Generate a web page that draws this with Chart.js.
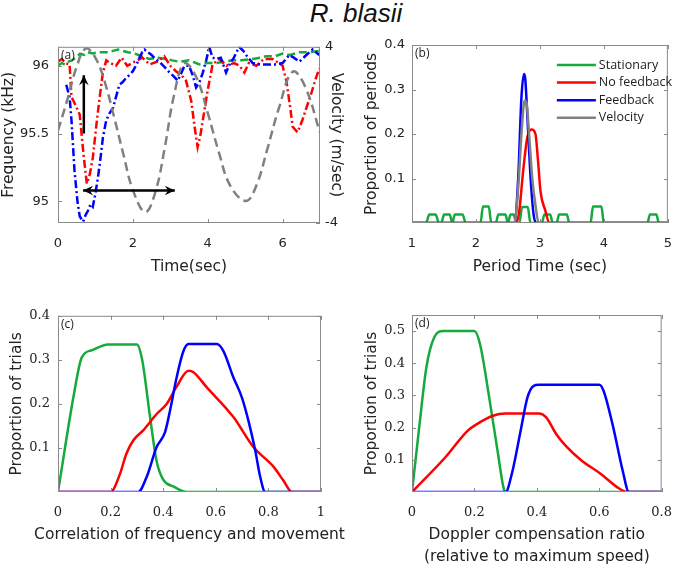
<!DOCTYPE html>
<html>
<head>
<meta charset="utf-8">
<script src="https://cdn.jsdelivr.net/npm/chart.js@4.4.0/dist/chart.umd.min.js"></script>
<style>
  body { margin: 0; background: #fff; width: 685px; height: 570px; position: relative; overflow: hidden; }
  .panel { position: absolute; }
  #title { position: absolute; left: 256px; width: 200px; top: 0; text-align: center;
           font: italic 26px "Liberation Sans", Arial, sans-serif; line-height: 26px; color: #111; }
</style>
</head>
<body>
<div id="title">R. blasii</div>
<canvas id="chartA" class="panel" width="345" height="250" style="left:0;top:30px"></canvas>
<canvas id="chartB" class="panel" width="340" height="250" style="left:345px;top:30px"></canvas>
<canvas id="chartC" class="panel" width="345" height="270" style="left:0;top:300px"></canvas>
<canvas id="chartD" class="panel" width="340" height="270" style="left:345px;top:300px"></canvas>
<script>
// ---- (a) frequency traces over time ----
const timeStationary = [0, 0.1, 0.19, 0.28, 0.37, 0.48, 0.59, 0.7, 0.8, 0.93, 1.07, 1.2, 1.33, 1.47, 1.6, 1.73, 1.87, 2.05, 2.24, 2.44, 2.65, 2.89, 3.05, 3.24, 3.5, 3.78, 4.0, 4.22, 4.45, 4.67, 4.9, 5.2, 5.4, 5.56, 5.8, 6.0, 6.2, 6.44, 6.7, 6.98];
const freqStationary = [96.0, 96.02, 96.01, 96.03, 96.04, 96.06, 96.09, 96.08, 96.1, 96.09, 96.1, 96.1, 96.1, 96.11, 96.12, 96.11, 96.1, 96.09, 96.07, 96.05, 96.06, 96.05, 96.04, 96.03, 96.04, 96.01, 96.02, 96.02, 96.03, 96.04, 96.04, 96.05, 96.06, 96.07, 96.07, 96.09, 96.08, 96.1, 96.1, 96.11];

const timeNoFb = [0, 0.1, 0.2, 0.31, 0.36, 0.45, 0.58, 0.68, 0.77, 0.85, 0.93, 1.02, 1.11, 1.2, 1.29, 1.4, 1.55, 1.7, 1.85, 2.05, 2.25, 2.45, 2.65, 2.84, 3.0, 3.15, 3.3, 3.42, 3.56, 3.65, 3.73, 3.8, 3.87, 4.0, 4.13, 4.3, 4.5, 4.7, 4.85, 4.98, 5.1, 5.3, 5.5, 5.73, 5.9, 6.0, 6.1, 6.2, 6.27, 6.4, 6.53, 6.65, 6.76, 6.88, 6.98];
const freqNoFb = [96.03, 96.05, 96.02, 96.01, 95.77, 95.72, 95.64, 95.35, 95.13, 95.2, 95.32, 95.55, 95.76, 95.95, 96.04, 96.02, 96.0, 96.06, 96.0, 96.03, 96.06, 96.01, 96.03, 96.07, 96.0, 95.96, 95.93, 95.89, 95.74, 95.55, 95.4, 95.48, 95.6, 95.82, 96.01, 96.05, 96.0, 96.02, 96.0, 95.95, 96.02, 96.0, 96.05, 96.05, 96.02, 96.0, 95.89, 95.7, 95.55, 95.51, 95.6, 95.7, 95.79, 95.9, 95.98];

const timeFb = [0.22, 0.31, 0.36, 0.44, 0.52, 0.58, 0.67, 0.74, 0.8, 0.87, 0.93, 1.0, 1.07, 1.14, 1.2, 1.29, 1.38, 1.47, 1.55, 1.64, 1.73, 1.82, 1.9, 2.0, 2.1, 2.18, 2.25, 2.31, 2.4, 2.5, 2.6, 2.71, 2.85, 2.98, 3.1, 3.2, 3.3, 3.38, 3.5, 3.6, 3.69, 3.78, 3.87, 3.96, 4.04, 4.13, 4.22, 4.35, 4.49, 4.6, 4.7, 4.84, 4.95, 5.05, 5.2, 5.4, 5.6, 5.8, 6.0, 6.18, 6.3, 6.45, 6.6, 6.8, 6.98];
const freqFb = [95.86, 95.77, 95.6, 95.23, 95.0, 94.89, 94.85, 94.9, 94.93, 94.98, 94.96, 95.06, 95.18, 95.33, 95.47, 95.6, 95.65, 95.69, 95.77, 95.86, 95.88, 95.91, 95.93, 95.96, 96.01, 96.06, 96.1, 96.12, 96.1, 96.08, 96.05, 96.03, 95.99, 95.95, 95.92, 95.89, 95.95, 96.0, 96.0, 95.93, 95.84, 95.88, 95.95, 96.04, 96.14, 96.06, 96.05, 96.06, 95.95, 96.02, 96.06, 96.14, 96.11, 96.07, 96.02, 96.01, 96.01, 96.01, 96.02, 96.08, 96.06, 96.03, 96.07, 96.12, 96.08];

const timeVelocity = [0, 0.25, 0.5, 0.74, 1.0, 1.25, 1.5, 1.75, 2.0, 2.33, 2.6, 2.85, 3.1, 3.38, 3.7, 4.0, 4.3, 4.6, 5.02, 5.3, 5.6, 5.9, 6.27, 6.6, 7.0];
const velocity = [0.2, 1.6, 3.1, 3.92, 3.5, 2.4, 0.8, -0.9, -2.5, -3.5, -2.6, -0.6, 1.8, 3.25, 2.6, 1.0, -0.8, -2.3, -3.0, -2.3, -0.6, 1.2, 2.87, 2.2, 0.1];

const freqTicks = [95, 95.5, 96];
const velTicks = [-4, 4];
const timeTicks = [0, 2, 4, 6];
// arrows drawn in data units (time, kHz)
const arrowUpTime = [0.69, 0.69], arrowUpFreq = [95.5, 95.93];
const arrowSpanTime = [0.67, 3.12], arrowSpanFreq = [95.08, 95.08];

// ---- (b) period histogram ----
const periodStationary = [1, 1.22, 1.27, 1.37, 1.42, 1.46, 1.5, 1.59, 1.63, 1.67, 1.79, 1.84, 2.07, 2.11, 2.2, 2.24, 2.31, 2.35, 2.46, 2.5, 2.54, 2.59, 2.63, 2.68, 2.72, 2.81, 2.85, 3.03, 3.07, 3.16, 3.2, 3.26, 3.3, 3.42, 3.46, 3.79, 3.83, 3.96, 4.0, 4.68, 4.72, 4.82, 4.86, 5];
const propPerStationary = [0, 0, 0.019, 0.019, 0, 0, 0.019, 0.019, 0, 0.019, 0.019, 0, 0, 0.037, 0.037, 0, 0, 0.019, 0.019, 0, 0.019, 0.019, 0, 0, 0.036, 0.036, 0, 0, 0.019, 0.019, 0, 0, 0.019, 0.019, 0, 0, 0.037, 0.037, 0, 0, 0.019, 0.019, 0, 0];
const periodNoFb = [1, 2.6, 2.67, 2.74, 2.8, 2.87, 2.93, 2.97, 3.01, 3.08, 3.15, 5];
const propPerNoFb = [0, 0, 0.02, 0.12, 0.19, 0.21, 0.2, 0.14, 0.07, 0.03, 0, 0];
const periodFb = [1, 2.6, 2.66, 2.71, 2.75, 2.77, 2.8, 2.85, 2.9, 2.95, 5];
const propPerFb = [0, 0, 0.1, 0.28, 0.335, 0.325, 0.25, 0.11, 0.02, 0, 0];
const periodVelocity = [1, 2.6, 2.66, 2.72, 2.76, 2.79, 2.83, 2.88, 2.93, 2.98, 5];
const propPerVelocity = [0, 0, 0.08, 0.22, 0.275, 0.27, 0.2, 0.1, 0.04, 0, 0];
const periodTicks = [1, 2, 3, 4, 5];
const propTicksB = [0.1, 0.2, 0.3, 0.4];
const legendLabels = ['Stationary', 'No feedback', 'Feedback', 'Velocity'];

// ---- (c) correlation histogram ----
const corrStationary = [0, 0.06, 0.09, 0.13, 0.19, 0.3, 0.32, 0.35, 0.375, 0.4, 0.44, 0.49, 1];
const propCorrStationary = [0, 0.22, 0.305, 0.322, 0.335, 0.335, 0.3, 0.17, 0.07, 0.028, 0.012, 0, 0];
const corrNoFb = [0, 0.2, 0.235, 0.26, 0.286, 0.324, 0.375, 0.413, 0.45, 0.496, 0.515, 0.565, 0.667, 0.743, 0.82, 0.857, 0.89, 1];
const propCorrNoFb = [0, 0, 0.04, 0.087, 0.117, 0.14, 0.177, 0.2, 0.238, 0.275, 0.272, 0.238, 0.17, 0.102, 0.057, 0.026, 0, 0];
const corrFb = [0, 0.305, 0.337, 0.375, 0.407, 0.426, 0.451, 0.477, 0.496, 0.604, 0.629, 0.667, 0.699, 0.724, 0.75, 0.769, 0.788, 1];
const propCorrFb = [0, 0, 0.034, 0.102, 0.136, 0.185, 0.26, 0.32, 0.336, 0.336, 0.32, 0.26, 0.215, 0.162, 0.094, 0.034, 0, 0];
const corrTicks = [0, 0.2, 0.4, 0.6, 0.8, 1];
const propTicksC = [0.1, 0.2, 0.3, 0.4];

// ---- (d) Doppler compensation histogram ----
const dopStationary = [0, 0.023, 0.046, 0.071, 0.1, 0.2, 0.218, 0.249, 0.274, 0.294, 0.3, 0.8];
const propDopStationary = [0, 0.2, 0.387, 0.48, 0.5, 0.5, 0.459, 0.284, 0.129, 0.01, 0, 0];
const dopNoFb = [0, 0.107, 0.178, 0.208, 0.259, 0.3, 0.406, 0.43, 0.462, 0.492, 0.543, 0.604, 0.665, 0.69, 0.8];
const propDopNoFb = [0, 0.108, 0.19, 0.211, 0.237, 0.244, 0.244, 0.232, 0.18, 0.144, 0.098, 0.057, 0.01, 0, 0];
const dopFb = [0, 0.3, 0.32, 0.35, 0.37, 0.39, 0.406, 0.6, 0.614, 0.645, 0.675, 0.695, 0.8];
const propDopFb = [0, 0, 0.057, 0.2, 0.294, 0.33, 0.333, 0.333, 0.314, 0.2, 0.067, 0, 0];
const dopTicks = [0, 0.2, 0.4, 0.6, 0.8];
const propTicksD = [0.1, 0.2, 0.3, 0.4, 0.5];

const GREEN = 'rgb(20,170,60)', RED = 'rgb(255,0,0)', BLUE = 'rgb(0,0,255)', GRAY = 'rgb(128,128,128)';
const FONT = '"DejaVu Sans", sans-serif';
const SERIF = '"DejaVu Serif", serif';
const LEGEND_FONT = '"Open Sans", sans-serif';
const TEXT = '#222';

Chart.defaults.font.family = FONT;
Chart.defaults.color = TEXT;

const zip = (xs, ys) => xs.map((x, i) => ({ x: x, y: ys[i] }));

function line(label, xs, ys, color, extra) {
  return Object.assign({
    label: label, data: zip(xs, ys), borderColor: color, backgroundColor: color,
    borderWidth: 2.5, pointRadius: 0, fill: false, cubicInterpolationMode: 'monotone'
  }, extra || {});
}

function xAxis(min, max, ticks, title, h, titlePad, tickFont, titleLH) {
  return {
    type: 'linear', position: 'bottom', min: min, max: max,
    grid: { display: false, drawTicks: false }, border: { display: false },
    afterBuildTicks: s => { s.ticks = ticks.map(v => ({ value: v })); },
    afterFit: s => { s.height = h; },
    ticks: { font: { size: 13, family: tickFont || FONT }, color: TEXT, padding: 13, maxRotation: 0, autoSkip: false, callback: v => String(v) },
    title: { display: title !== null, text: title || '', color: TEXT, font: { size: 15.5, lineHeight: titleLH || 1.15 }, padding: { top: 0, bottom: titlePad } }
  };
}

function yAxis(min, max, ticks, title, w, tickPad, titlePad, pos, tickFont) {
  return {
    type: 'linear', position: pos || 'left', min: min, max: max,
    grid: { display: false, drawTicks: false }, border: { display: false },
    afterBuildTicks: s => { s.ticks = ticks.map(v => ({ value: v })); },
    afterFit: s => { s.width = w; },
    ticks: { font: { size: 13, family: tickFont || FONT }, color: TEXT, padding: tickPad, autoSkip: false, callback: v => String(v) },
    title: { display: true, text: title, color: TEXT, font: { size: 15.5 }, padding: { top: titlePad, bottom: 0 } }
  };
}

// axes box with inward ticks, plus the panel tag
const boxPlugin = {
  id: 'box',
  afterDatasetsDraw(chart, args, opts) {
    const { ctx, chartArea: a, scales } = chart;
    const len = 4;
    ctx.save();
    ctx.strokeStyle = '#8a8a8a';
    ctx.lineWidth = 1;
    ctx.strokeRect(a.left + 0.5, a.top + 0.5, a.width - 1, a.height - 1);
    ctx.beginPath();
    scales.x.ticks.forEach(t => {
      const px = Math.round(scales.x.getPixelForValue(t.value)) + 0.5;
      ctx.moveTo(px, a.bottom); ctx.lineTo(px, a.bottom - len);
      ctx.moveTo(px, a.top); ctx.lineTo(px, a.top + len);
    });
    scales.y.ticks.forEach(t => {
      const py = Math.round(scales.y.getPixelForValue(t.value)) + 0.5;
      ctx.moveTo(a.left, py); ctx.lineTo(a.left + len, py);
      if (!scales.y1) { ctx.moveTo(a.right, py); ctx.lineTo(a.right - len, py); }
    });
    if (scales.y1) {
      scales.y1.ticks.forEach(t => {
        const py = Math.round(scales.y1.getPixelForValue(t.value)) + 0.5;
        ctx.moveTo(a.right, py); ctx.lineTo(a.right - len, py);
      });
    }
    ctx.stroke();
    ctx.fillStyle = TEXT;
    ctx.font = '12px ' + LEGEND_FONT;
    ctx.textBaseline = 'top';
    ctx.fillText(opts.tag, a.left + 3, a.top + 3);
    // wide x-axis title that must not be squeezed to the plot width
    if (opts.xTitle) {
      ctx.font = '15.5px ' + FONT;
      ctx.textAlign = 'center';
      ctx.textBaseline = 'middle';
      ctx.fillText(opts.xTitle, (a.left + a.right) / 2, chart.height - 35);
    }
    ctx.restore();
  }
};

function drawArrow(ctx, x0, y0, x1, y1, head) {
  const ang = Math.atan2(y1 - y0, x1 - x0);
  ctx.beginPath(); ctx.moveTo(x0, y0); ctx.lineTo(x1, y1); ctx.stroke();
  ctx.beginPath();
  ctx.moveTo(x1, y1);
  ctx.lineTo(x1 - head * Math.cos(ang - 0.45), y1 - head * Math.sin(ang - 0.45));
  ctx.lineTo(x1 - head * 0.6 * Math.cos(ang), y1 - head * 0.6 * Math.sin(ang));
  ctx.lineTo(x1 - head * Math.cos(ang + 0.45), y1 - head * Math.sin(ang + 0.45));
  ctx.closePath(); ctx.fill();
}

const arrowPlugin = {
  id: 'arrows',
  afterDatasetsDraw(chart) {
    const { ctx, scales: { x, y } } = chart;
    ctx.save();
    ctx.strokeStyle = '#000'; ctx.fillStyle = '#000'; ctx.lineWidth = 2.5;
    drawArrow(ctx, x.getPixelForValue(arrowUpTime[0]), y.getPixelForValue(arrowUpFreq[0]),
              x.getPixelForValue(arrowUpTime[1]), y.getPixelForValue(arrowUpFreq[1]), 11);
    const sx0 = x.getPixelForValue(arrowSpanTime[0]), sx1 = x.getPixelForValue(arrowSpanTime[1]);
    const sy0 = y.getPixelForValue(arrowSpanFreq[0]), sy1 = y.getPixelForValue(arrowSpanFreq[1]);
    const mx = (sx0 + sx1) / 2, my = (sy0 + sy1) / 2;
    drawArrow(ctx, mx, my, sx1, sy1, 11);
    drawArrow(ctx, mx, my, sx0, sy0, 11);
    ctx.restore();
  }
};

const legendPlugin = {
  id: 'legendB',
  afterDatasetsDraw(chart) {
    const { ctx, chartArea: a } = chart;
    ctx.save();
    ctx.font = '12.5px ' + LEGEND_FONT;
    ctx.textBaseline = 'middle';
    ctx.lineWidth = 2.5;
    legendLabels.forEach((label, i) => {
      const ds = chart.data.datasets.find(d => d.label === label);
      const yy = a.top + 20 + i * 17.6;
      ctx.strokeStyle = ds.borderColor;
      ctx.beginPath(); ctx.moveTo(a.right - 111, yy); ctx.lineTo(a.right - 72, yy); ctx.stroke();
      ctx.fillStyle = TEXT;
      ctx.fillText(label, a.right - 69, yy);
    });
    ctx.restore();
  }
};

const common = {
  responsive: false, animation: false, devicePixelRatio: 1,
  events: [],
  plugins: { legend: { display: false }, tooltip: { enabled: false } }
};

function opts(extra, box, padding) {
  const o = Object.assign({}, common, extra);
  o.plugins = Object.assign({}, common.plugins, { box: box });
  o.layout = { padding: padding };
  return o;
}

// (a)
new Chart(document.getElementById('chartA'), {
  type: 'line',
  data: {
    datasets: [
      line('Stationary', timeStationary, freqStationary, GREEN, { borderDash: [8, 4], cubicInterpolationMode: 'default', tension: 0, order: 0 }),
      line('No feedback', timeNoFb, freqNoFb, RED, { borderDash: [8, 3, 2, 3], cubicInterpolationMode: 'default', tension: 0, order: -1 }),
      line('Feedback', timeFb, freqFb, BLUE, { borderDash: [8, 3, 2, 3], cubicInterpolationMode: 'default', tension: 0, order: -2 }),
      line('Velocity', timeVelocity, velocity, GRAY, { borderDash: [9, 5], cubicInterpolationMode: 'default', tension: 0.4, yAxisID: 'y1', order: -3 })
    ]
  },
  options: opts({
    scales: {
      x: xAxis(0, 7, timeTicks, 'Time(sec)', 57, 4),
      y: yAxis(94.84, 96.14, freqTicks, 'Frequency (kHz)', 58, 9, 0),
      y1: yAxis(-4, 4, velTicks, 'Velocity (m/sec)', 25, 5, 0, 'right')
    }
  }, { tag: '(a)' }, { top: 15, left: 0, right: 0, bottom: 0 }),
  plugins: [boxPlugin, arrowPlugin]
});

// (b)
new Chart(document.getElementById('chartB'), {
  type: 'line',
  data: {
    datasets: [
      line('Stationary', periodStationary, propPerStationary, GREEN, { order: 0 }),
      line('No feedback', periodNoFb, propPerNoFb, RED, { order: -1 }),
      line('Feedback', periodFb, propPerFb, BLUE, { order: -2 }),
      line('Velocity', periodVelocity, propPerVelocity, GRAY, { order: -3 })
    ]
  },
  options: opts({
    scales: {
      x: xAxis(1, 5, periodTicks, 'Period Time (sec)', 57, 4),
      y: yAxis(0, 0.4, propTicksB, 'Proportion of periods', 67, 7, 18)
    }
  }, { tag: '(b)' }, { top: 15, left: 0, right: 11, bottom: 0 }),
  plugins: [boxPlugin, legendPlugin]
});

// (c)
new Chart(document.getElementById('chartC'), {
  type: 'line',
  data: {
    datasets: [
      line('Stationary', corrStationary, propCorrStationary, GREEN, { order: 0 }),
      line('No feedback', corrNoFb, propCorrNoFb, RED, { order: -1 }),
      line('Feedback', corrFb, propCorrFb, BLUE, { order: -2 })
    ]
  },
  options: opts({
    scales: {
      x: xAxis(0, 1, corrTicks, null, 78, 26, SERIF),
      y: yAxis(0, 0.4, propTicksC, 'Proportion of trials', 58, 8, 8, 'left', SERIF)
    }
  }, { tag: '(c)', xTitle: 'Correlation of frequency and movement' }, { top: 15, left: 0, right: 24, bottom: 0 }),
  plugins: [boxPlugin]
});

// (d)
new Chart(document.getElementById('chartD'), {
  type: 'line',
  data: {
    datasets: [
      line('Stationary', dopStationary, propDopStationary, GREEN, { order: 0 }),
      line('No feedback', dopNoFb, propDopNoFb, RED, { order: -1 }),
      line('Feedback', dopFb, propDopFb, BLUE, { order: -2 })
    ]
  },
  options: opts({
    scales: {
      x: xAxis(0, 0.8, dopTicks, ['Doppler compensation ratio', '(relative to maximum speed)'], 78, 2, SERIF, 1.42),
      y: yAxis(0, 0.55, propTicksD, 'Proportion of trials', 67, 7, 18, 'left', SERIF)
    }
  }, { tag: '(d)' }, { top: 15, left: 0, right: 11, bottom: 0 }),
  plugins: [boxPlugin]
});
</script>
</body>
</html>
